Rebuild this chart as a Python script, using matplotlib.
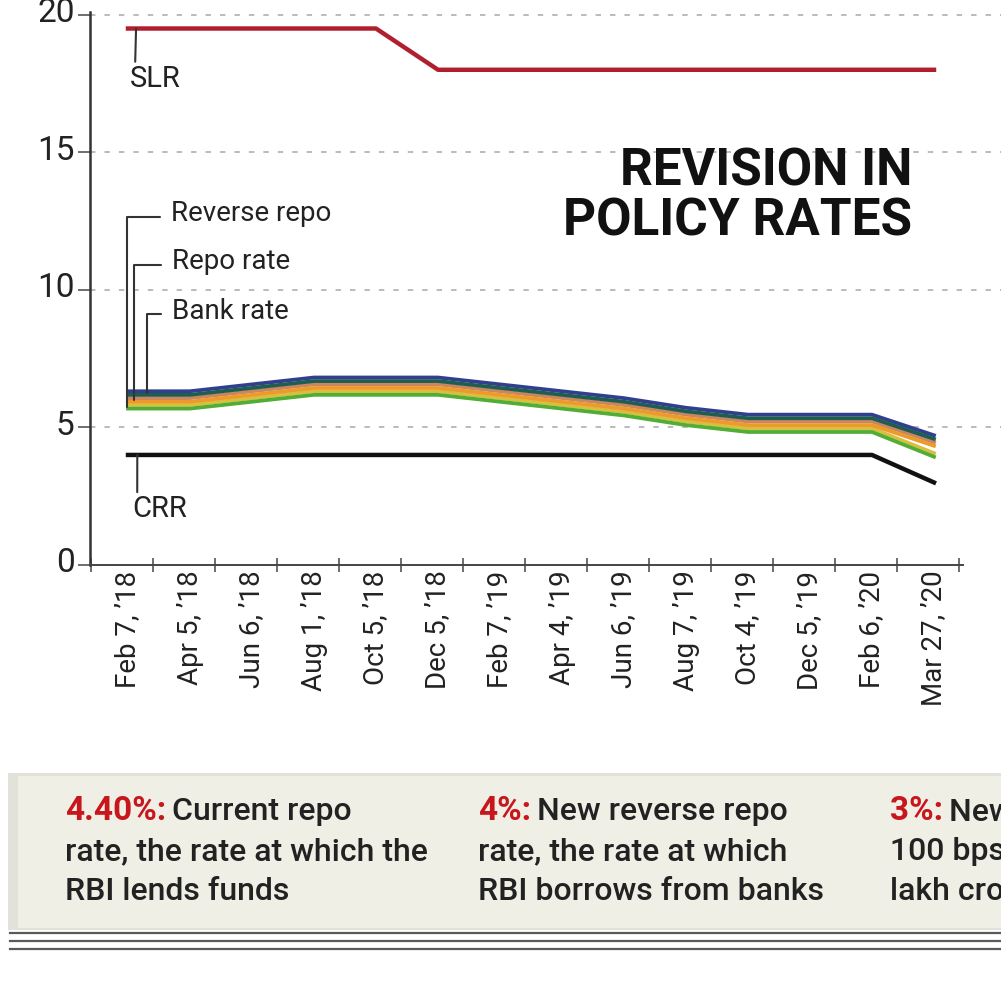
import matplotlib
matplotlib.use("Agg")
import matplotlib.pyplot as plt
from matplotlib.transforms import offset_copy, ScaledTranslation
from matplotlib.patches import Rectangle

# policy rate announcement dates
dates = ["Feb 7, ’18", "Apr 5, ’18", "Jun 6, ’18", "Aug 1, ’18", "Oct 5, ’18", "Dec 5, ’18",
         "Feb 7, ’19", "Apr 4, ’19", "Jun 6, ’19", "Aug 7, ’19", "Oct 4, ’19", "Dec 5, ’19",
         "Feb 6, ’20", "Mar 27, ’20"]

slr = [19.5, 19.5, 19.5, 19.5, 19.5, 18, 18, 18, 18, 18, 18, 18, 18, 18]
bank_rate = [6.25, 6.25, 6.5, 6.75, 6.75, 6.75, 6.5, 6.25, 6.0, 5.65, 5.4, 5.4, 5.4, 4.65]
repo_rate = [6.0, 6.0, 6.25, 6.5, 6.5, 6.5, 6.25, 6.0, 5.75, 5.4, 5.15, 5.15, 5.15, 4.4]
reverse_repo = [5.75, 5.75, 6.0, 6.25, 6.25, 6.25, 6.0, 5.75, 5.5, 5.15, 4.9, 4.9, 4.9, 4.0]
crr = [4, 4, 4, 4, 4, 4, 4, 4, 4, 4, 4, 4, 4, 3]

y_ticks = [0, 5, 10, 15, 20]

notes = [("4.40%:", ["Current repo", "rate, the rate at which the", "RBI lends funds"]),
         ("4%:", ["New reverse repo", "rate, the rate at which", "RBI borrows from banks"]),
         ("3%:", ["New CRR, a cut of", "100 bps, releasing Rs 1.37", "lakh crore"])]

FONT = ["Roboto", "DejaVu Sans"]
INK = "#222222"
RED = "#c8161d"

W, H = 1001, 986
fig = plt.figure(figsize=(W / 100, H / 100), dpi=100)
fig.patch.set_facecolor("white")

ax = fig.add_axes([90 / W, 1 - 565 / H, 1 - 90 / W, (565 - 12) / H])
x = list(range(len(dates)))
ax.set_xlim(-38 / 62, (W - 128) / 62)
ax.set_ylim(0, 20.1)

for s in ["top", "right"]:
    ax.spines[s].set_visible(False)
ax.spines["left"].set_color("#333333")
ax.spines["left"].set_linewidth(1.8)
ax.spines["bottom"].set_color("#444444")
ax.spines["bottom"].set_linewidth(1.4)
ax.spines["bottom"].set_bounds(-38 / 62, 13.47)

# dashed guide lines
for v in y_ticks[1:]:
    ax.axhline(v, color="#b5b5b5", lw=1.3, ls=(0, (3, 5)), zorder=0)

ax.set_xticks(x)
ax.set_xticklabels(dates, rotation=90, fontsize=20, family=FONT, color=INK)
ax.set_xticks([i - 0.6 for i in range(15)], minor=True)
ax.tick_params(axis="x", which="major", length=0, pad=4)
ax.tick_params(axis="x", which="minor", length=10, width=1.2, direction="inout", color="#555555")

ax.set_yticks(y_ticks)
ax.set_yticklabels([str(v) for v in y_ticks], fontsize=24, family=FONT, color=INK)
ax.tick_params(axis="y", length=9, width=1.2, color="#555555", pad=2)
for lbl in ax.get_yticklabels():
    lbl.set_transform(lbl.get_transform() + ScaledTranslation(0, 0.05, fig.dpi_scale_trans))

# lines
up = offset_copy(ax.transData, fig=fig, y=1.8, units="dots")
dn = offset_copy(ax.transData, fig=fig, y=-1.8, units="dots")
for vals, c_top, c_bot in [(reverse_repo, "#d6c040", "#52ad34"),
                           (repo_rate, "#c98660", "#ee9a2a"),
                           (bank_rate, "#303f8e", "#1d5e50")]:
    ax.plot(x, vals, color=c_top, lw=2.7, transform=up, solid_joinstyle="round", zorder=3)
    ax.plot(x, vals, color=c_bot, lw=2.7, transform=dn, solid_joinstyle="round", zorder=3)

ax.plot(x, slr, color="#b01f2e", lw=3.2, solid_joinstyle="round", zorder=3)
ax.plot(x, crr, color="#111111", lw=3.2, solid_joinstyle="round", zorder=3)

# labels with leader lines
leader = dict(arrowstyle="-", color="#333333", lw=1.5, shrinkB=0)
for name, vals, dx, off in [("Reverse repo", reverse_repo, -0.02, (44, 193)),
                            ("Repo rate", repo_rate, 0.1, (38, 138)),
                            ("Bank rate", bank_rate, 0.31, (25, 82))]:
    ax.annotate(name, xy=(dx, vals[0]), xytext=off, textcoords="offset pixels",
                ha="left", va="center", fontsize=20, family=FONT, color=INK,
                arrowprops=dict(leader, connectionstyle="angle,angleA=0,angleB=90,rad=0",
                                relpos=(0, 0.4), shrinkA=6))

ax.annotate("SLR", xy=(0.13, slr[0]), xytext=(-6, -50), textcoords="offset pixels",
            ha="left", va="center", fontsize=21, family=FONT, color=INK,
            arrowprops=dict(leader, relpos=(0.1, 1), shrinkA=0))
ax.annotate("CRR", xy=(0.15, crr[0]), xytext=(-5, -54), textcoords="offset pixels",
            ha="left", va="center", fontsize=21, family=FONT, color=INK,
            arrowprops=dict(leader, relpos=(0.09, 1), shrinkA=0))

fig.text(912 / W, 1 - 146 / H, "REVISION IN\nPOLICY RATES", ha="right", va="top",
         fontsize=37, weight="bold", family=FONT, color="#111111", linespacing=1.02)

# bottom note panel
fig.patches.append(Rectangle((8 / W, 1 - 930 / H), 1, 157 / H, transform=fig.transFigure,
                             facecolor="#e2e2da", edgecolor="none", zorder=0))
fig.patches.append(Rectangle((18 / W, 1 - 928 / H), 1, 152 / H, transform=fig.transFigure,
                             facecolor="#efefe5", edgecolor="none", zorder=0))
for yy in [933, 941, 949]:
    fig.add_artist(plt.Line2D([10 / W, 1], [1 - yy / H] * 2, color="#5a5a5a", lw=1.6))

renderer = fig.canvas.get_renderer()
col_x = [65, 478, 890]
base_y = [820, 860, 900]
for cx, (head, lines) in zip(col_x, notes):
    t = fig.text(cx / W, 1 - base_y[0] / H, head, ha="left", va="baseline", fontsize=24,
                 weight="bold", family=FONT, color=RED)
    x1 = t.get_window_extent(renderer).x1
    fig.text((x1 + 6) / W, 1 - base_y[0] / H, lines[0], ha="left", va="baseline",
             fontsize=23, weight="medium", family=FONT, color=INK)
    for by, line in zip(base_y[1:], lines[1:]):
        fig.text(cx / W, 1 - by / H, line, ha="left", va="baseline", fontsize=23,
                 weight="medium", family=FONT, color=INK)

fig.savefig("out.png", dpi=100)
